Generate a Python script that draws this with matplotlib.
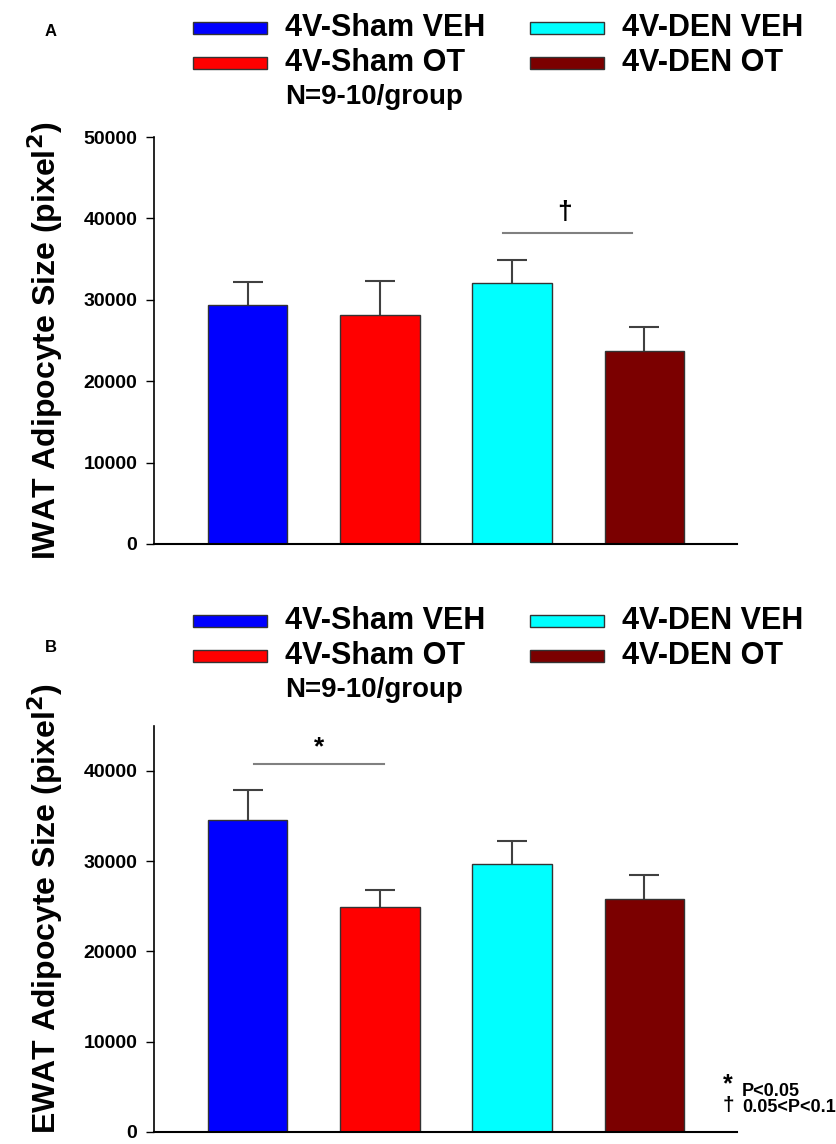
import matplotlib
matplotlib.use("Agg")
import matplotlib.pyplot as plt
from matplotlib.patches import Rectangle

plt.rcParams["font.family"] = ["Liberation Sans", "DejaVu Sans"]

# groups and colours
groups = ["4V-Sham VEH", "4V-Sham OT", "4V-DEN VEH", "4V-DEN OT"]
colors = ["#0000ff", "#ff0000", "#00ffff", "#7b0000"]

# panel A: IWAT (mean, SEM)
iwat_mean = [29300, 28150, 32050, 23700]
iwat_sem = [2900, 4150, 2900, 2900]

# panel B: EWAT (mean, SEM)
ewat_mean = [34500, 24950, 29700, 25800]
ewat_sem = [3400, 1800, 2550, 2700]

W, H = 837, 1144
fig = plt.figure(figsize=(W / 100, H / 100), dpi=100)


def fx(px):
    return px / W


def fy(py):
    return 1 - py / H


def panel(rect, mean, sem, ylim, yticks):
    ax = fig.add_axes(rect)
    x = range(len(mean))
    ax.bar(x, mean, width=0.6, color=colors, edgecolor="#333333", linewidth=1.0, zorder=2)
    # symmetric bars behind the columns -> only the upper half shows
    ax.errorbar(x, mean, yerr=sem, fmt="none", ecolor="#404040",
                elinewidth=1.5, capsize=11, capthick=1.5, zorder=1)
    ax.set_xlim(-0.707, 3.70)
    ax.set_ylim(*ylim)
    ax.set_yticks(yticks)
    ax.set_yticklabels([str(t) for t in yticks], fontsize=14, fontweight="bold")
    ax.set_xticks([])
    for s in ["top", "right"]:
        ax.spines[s].set_visible(False)
    ax.spines["left"].set_linewidth(1.2)
    ax.spines["bottom"].set_linewidth(1.5)
    ax.tick_params(axis="y", direction="out", length=6, width=1.0, pad=6)
    return ax


def legend_block(top_py):
    # swatches + labels, two columns
    for i, (g, c) in enumerate(zip(groups, colors)):
        col, row = i // 2, i % 2
        sx = 193 if col == 0 else 530
        sy = top_py + row * 35
        fig.patches.append(Rectangle((fx(sx), fy(sy + 12)), fx(74), 12 / H, facecolor=c,
                                     edgecolor="#333333", linewidth=1.0,
                                     transform=fig.transFigure, figure=fig))
        fig.text(fx(sx + 92), fy(sy + 6), g, fontsize=22, fontweight="bold",
                 ha="left", va="center")
    fig.text(fx(285), fy(top_py + 75), "N=9-10/group", fontsize=20, fontweight="bold",
             ha="left", va="center")


# ---- panel A
axA = panel([fx(154), fy(544), fx(737 - 154), 407 / H], iwat_mean, iwat_sem,
            (0, 50000), [0, 10000, 20000, 30000, 40000, 50000])
axA.plot([1.93, 2.91], [38250, 38250], color="#808080", lw=1.5)
axA.text(2.4, 39300, "\u2020", ha="center", va="bottom", fontsize=19, fontweight="bold")
fig.text(fx(45), fy(341), "IWAT Adipocyte Size (pixel$\\mathbf{^2}$)", rotation=90,
         fontsize=23, fontweight="bold", ha="center", va="center")
fig.text(fx(51), fy(32), "A", fontsize=12, fontweight="bold", ha="center", va="center")
legend_block(22)

# ---- panel B
axB = panel([fx(154), fy(1132), fx(737 - 154), (1132 - 725.5) / H], ewat_mean, ewat_sem,
            (0, 45000), [0, 10000, 20000, 30000, 40000])
axB.plot([0.05, 1.03], [40750, 40750], color="#808080", lw=1.5)
axB.text(0.54, 41300, "*", ha="center", va="bottom", fontsize=19, fontweight="bold")
fig.text(fx(45), fy(908), "EWAT Adipocyte Size (pixel$\\mathbf{^2}$)", rotation=90,
         fontsize=23, fontweight="bold", ha="center", va="center")
fig.text(fx(51), fy(648), "B", fontsize=12, fontweight="bold", ha="center", va="center")
legend_block(615)

# footnote
fig.text(fx(728), fy(1084), "*", fontsize=18, fontweight="bold", ha="center", va="center")
fig.text(fx(742), fy(1092), "P<0.05", fontsize=13, fontweight="bold", ha="left", va="center")
fig.text(fx(728), fy(1106), "\u2020", fontsize=15, fontweight="bold", ha="center", va="center")
fig.text(fx(742), fy(1107), "0.05<P<0.1", fontsize=13, fontweight="bold", ha="left", va="center")

fig.savefig("out.png", dpi=100)
